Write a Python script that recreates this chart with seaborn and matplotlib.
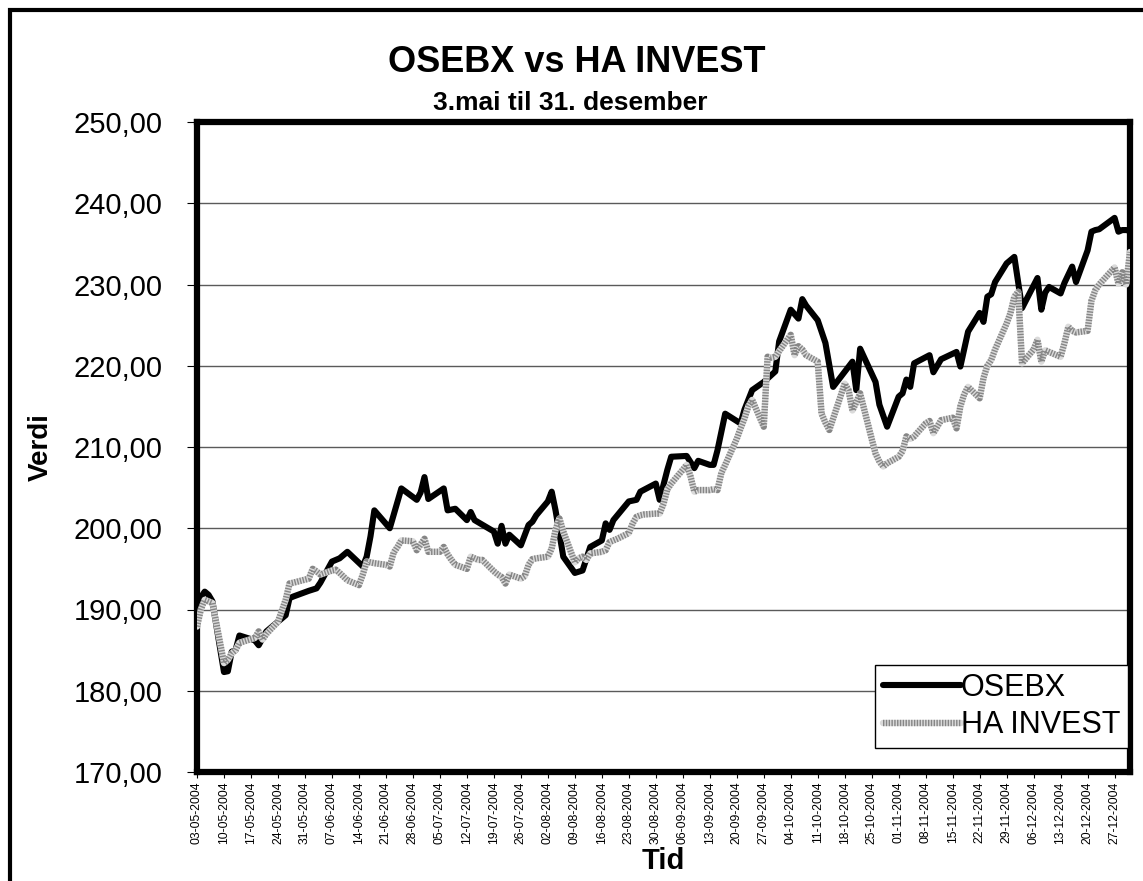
import matplotlib
matplotlib.use("Agg")
import matplotlib.pyplot as plt
import matplotlib.dates as mdates
from matplotlib.patches import Rectangle
from matplotlib.ticker import FuncFormatter, MultipleLocator
import pandas as pd
import seaborn as sns

# OSEBX
osebx_dates = [
    "2004-05-03", "2004-05-04", "2004-05-05", "2004-05-06", "2004-05-07", "2004-05-10",
    "2004-05-11", "2004-05-12", "2004-05-13", "2004-05-14", "2004-05-18", "2004-05-19",
    "2004-05-21", "2004-05-26", "2004-05-27", "2004-05-28", "2004-06-01", "2004-06-03",
    "2004-06-04", "2004-06-07", "2004-06-09", "2004-06-11", "2004-06-15", "2004-06-16",
    "2004-06-17", "2004-06-18", "2004-06-22", "2004-06-25", "2004-06-29", "2004-06-30",
    "2004-07-01", "2004-07-02", "2004-07-06", "2004-07-07", "2004-07-09", "2004-07-12",
    "2004-07-13", "2004-07-14", "2004-07-19", "2004-07-20", "2004-07-21", "2004-07-22",
    "2004-07-23", "2004-07-26", "2004-07-28", "2004-07-29", "2004-07-30", "2004-08-02",
    "2004-08-03", "2004-08-04", "2004-08-05", "2004-08-06", "2004-08-09", "2004-08-11",
    "2004-08-13", "2004-08-16", "2004-08-17", "2004-08-18", "2004-08-19", "2004-08-23",
    "2004-08-25", "2004-08-26", "2004-08-30", "2004-08-31", "2004-09-02", "2004-09-03",
    "2004-09-07", "2004-09-09", "2004-09-10", "2004-09-13", "2004-09-14", "2004-09-15",
    "2004-09-17", "2004-09-21", "2004-09-22", "2004-09-24", "2004-09-27", "2004-09-30",
    "2004-10-01", "2004-10-04", "2004-10-06", "2004-10-07", "2004-10-08", "2004-10-11",
    "2004-10-13", "2004-10-15", "2004-10-20", "2004-10-21", "2004-10-22", "2004-10-26",
    "2004-10-27", "2004-10-29", "2004-11-01", "2004-11-02", "2004-11-03", "2004-11-04",
    "2004-11-05", "2004-11-09", "2004-11-10", "2004-11-12", "2004-11-16", "2004-11-17",
    "2004-11-19", "2004-11-22", "2004-11-23", "2004-11-24", "2004-11-25", "2004-11-26",
    "2004-11-29", "2004-11-30", "2004-12-01", "2004-12-03", "2004-12-07", "2004-12-08",
    "2004-12-09", "2004-12-10", "2004-12-13", "2004-12-14", "2004-12-16", "2004-12-17",
    "2004-12-20", "2004-12-21", "2004-12-22", "2004-12-23", "2004-12-27", "2004-12-28",
    "2004-12-29", "2004-12-30", "2004-12-31",
]
osebx_values = [
    188.0, 191.5, 192.2, 191.8, 191.0, 182.3,
    182.4, 184.8, 185.0, 186.8, 186.2, 185.6,
    187.3, 189.3, 191.4, 191.6, 192.3, 192.6,
    193.3, 195.9, 196.3, 197.1, 195.3, 196.5,
    199.0, 202.2, 200.0, 204.9, 203.5, 204.4,
    206.3, 203.6, 204.9, 202.2, 202.4, 201.0,
    202.0, 201.0, 199.6, 198.1, 200.3, 198.1,
    199.2, 197.9, 200.4, 200.8, 201.6, 203.3,
    204.5, 202.2, 199.4, 196.5, 194.5, 194.8,
    197.7, 198.5, 200.6, 199.8, 201.0, 203.3,
    203.5, 204.5, 205.5, 203.5, 207.2, 208.8,
    208.9, 207.4, 208.3, 207.8, 207.8, 209.6,
    214.1, 212.9, 214.6, 217.0, 218.0, 219.3,
    223.0, 226.9, 225.8, 228.2, 227.4, 225.6,
    222.8, 217.4, 220.5, 217.0, 222.1, 218.0,
    215.2, 212.5, 216.2, 216.6, 218.3, 217.4,
    220.3, 221.3, 219.2, 220.8, 221.7, 219.9,
    224.2, 226.5, 225.4, 228.5, 228.8, 230.3,
    232.6, 233.0, 233.4, 227.1, 230.8, 226.9,
    229.0, 229.7, 228.9, 230.2, 232.2, 230.3,
    234.2, 236.5, 236.7, 236.8, 238.2, 236.5,
    236.7, 236.7, 236.6,
]

# HA INVEST
ha_dates = [
    "2004-05-03", "2004-05-04", "2004-05-05", "2004-05-06", "2004-05-07", "2004-05-10",
    "2004-05-11", "2004-05-12", "2004-05-13", "2004-05-14", "2004-05-18", "2004-05-19",
    "2004-05-20", "2004-05-21", "2004-05-24", "2004-05-26", "2004-05-27", "2004-05-28",
    "2004-06-01", "2004-06-02", "2004-06-03", "2004-06-04", "2004-06-07", "2004-06-08",
    "2004-06-09", "2004-06-11", "2004-06-14", "2004-06-15", "2004-06-16", "2004-06-17",
    "2004-06-18", "2004-06-21", "2004-06-22", "2004-06-23", "2004-06-24", "2004-06-25",
    "2004-06-28", "2004-06-29", "2004-06-30", "2004-07-01", "2004-07-02", "2004-07-05",
    "2004-07-06", "2004-07-07", "2004-07-08", "2004-07-09", "2004-07-12", "2004-07-13",
    "2004-07-14", "2004-07-15", "2004-07-16", "2004-07-19", "2004-07-20", "2004-07-21",
    "2004-07-22", "2004-07-23", "2004-07-26", "2004-07-27", "2004-07-28", "2004-07-29",
    "2004-07-30", "2004-08-02", "2004-08-03", "2004-08-04", "2004-08-05", "2004-08-06",
    "2004-08-09", "2004-08-10", "2004-08-11", "2004-08-12", "2004-08-13", "2004-08-16",
    "2004-08-17", "2004-08-18", "2004-08-19", "2004-08-20", "2004-08-23", "2004-08-24",
    "2004-08-25", "2004-08-26", "2004-08-27", "2004-08-30", "2004-08-31", "2004-09-01",
    "2004-09-02", "2004-09-03", "2004-09-06", "2004-09-07", "2004-09-08", "2004-09-09",
    "2004-09-10", "2004-09-13", "2004-09-14", "2004-09-15", "2004-09-16", "2004-09-17",
    "2004-09-20", "2004-09-21", "2004-09-22", "2004-09-23", "2004-09-24", "2004-09-27",
    "2004-09-28", "2004-09-29", "2004-09-30", "2004-10-01", "2004-10-04", "2004-10-05",
    "2004-10-06", "2004-10-07", "2004-10-08", "2004-10-11", "2004-10-12", "2004-10-13",
    "2004-10-14", "2004-10-15", "2004-10-18", "2004-10-19", "2004-10-20", "2004-10-21",
    "2004-10-22", "2004-10-25", "2004-10-26", "2004-10-27", "2004-10-28", "2004-10-29",
    "2004-11-01", "2004-11-02", "2004-11-03", "2004-11-04", "2004-11-05", "2004-11-08",
    "2004-11-09", "2004-11-10", "2004-11-11", "2004-11-12", "2004-11-15", "2004-11-16",
    "2004-11-17", "2004-11-18", "2004-11-19", "2004-11-22", "2004-11-23", "2004-11-24",
    "2004-11-25", "2004-11-26", "2004-11-29", "2004-11-30", "2004-12-01", "2004-12-02",
    "2004-12-03", "2004-12-06", "2004-12-07", "2004-12-08", "2004-12-09", "2004-12-10",
    "2004-12-13", "2004-12-14", "2004-12-15", "2004-12-16", "2004-12-17", "2004-12-20",
    "2004-12-21", "2004-12-22", "2004-12-23", "2004-12-27", "2004-12-28", "2004-12-29",
    "2004-12-30", "2004-12-31",
]
ha_values = [
    187.9, 190.0, 191.2, 191.0, 190.8, 183.4,
    183.8, 184.6, 185.0, 185.9, 186.5, 187.3,
    186.3, 187.0, 188.5, 191.2, 193.2, 193.3,
    193.8, 195.0, 194.7, 194.3, 194.8, 194.9,
    194.5, 193.6, 193.0, 194.3, 195.9, 195.8,
    195.7, 195.5, 195.3, 197.0, 197.7, 198.5,
    198.4, 197.3, 198.0, 198.7, 197.1, 197.1,
    197.7, 196.8, 196.1, 195.5, 195.0, 196.5,
    196.3, 196.1, 196.1, 194.7, 194.3, 194.0,
    193.2, 194.3, 193.8, 194.1, 195.5, 196.2,
    196.3, 196.5, 197.5, 199.8, 201.2, 199.6,
    195.8, 196.3, 196.5, 196.1, 196.9, 197.1,
    197.3, 198.3, 198.5, 198.7, 199.4, 200.6,
    201.4, 201.6, 201.7, 201.8, 201.8, 203.0,
    204.8, 205.5, 207.2, 207.8, 206.4, 204.5,
    204.7, 204.7, 204.8, 204.7, 206.8, 207.8,
    211.0, 212.3, 213.5, 215.0, 215.8, 212.5,
    221.1, 221.0, 221.1, 221.8, 223.8, 221.3,
    222.4, 222.0, 221.3, 220.5, 214.1, 213.0,
    212.1, 213.5, 217.8, 217.0, 214.5, 215.5,
    216.6, 211.0, 209.2, 208.2, 207.6, 208.0,
    208.8, 209.5, 211.3, 211.0, 211.3, 212.9,
    213.2, 211.7, 212.5, 213.3, 213.6, 212.3,
    215.0, 216.5, 217.4, 216.0, 218.5, 220.0,
    220.7, 222.0, 225.2, 226.5, 228.5, 229.1,
    220.3, 222.0, 223.2, 220.5, 221.9, 221.7,
    221.1, 222.8, 224.8, 224.3, 224.1, 224.3,
    228.0, 229.3, 230.0, 232.1, 230.1, 231.5,
    230.0, 234.0,
]

series_names = ["OSEBX", "HA INVEST"]
title = "OSEBX vs HA INVEST"
subtitle = "3.mai til 31. desember"

osebx = pd.DataFrame({"Tid": pd.to_datetime(osebx_dates), "Verdi": osebx_values})
ha = pd.DataFrame({"Tid": pd.to_datetime(ha_dates), "Verdi": ha_values})

sns.set_style("white")
plt.rcParams["font.family"] = ["Liberation Sans", "DejaVu Sans"]
plt.rcParams.update({"text.color": "black", "axes.labelcolor": "black",
                     "xtick.color": "black", "ytick.color": "black"})

fig = plt.figure(figsize=(11.43, 8.81), dpi=100)
ax = fig.add_axes([197 / 1143, 1 - 772 / 881, (1130 - 197) / 1143, (772 - 122) / 881])

# horizontal gridlines
for v in range(180, 250, 10):
    ax.axhline(v, color="#5a5a5a", lw=1.0, zorder=1)

sns.lineplot(data=osebx, x="Tid", y="Verdi", ax=ax, color="black", linewidth=4.4,
             solid_joinstyle="round", zorder=3)
sns.lineplot(data=ha, x="Tid", y="Verdi", ax=ax, color="#dadada", linewidth=4.6, zorder=4)
sns.lineplot(data=ha, x="Tid", y="Verdi", ax=ax, color="#868686", linewidth=4.6,
             linestyle=(0, (0.22, 0.22)), zorder=5)

line_osebx, line_ha_base, line_ha_dots = ax.lines[-3:]

ax.set_ylim(170, 250)
ax.set_xlim(pd.Timestamp("2004-05-03"), pd.Timestamp("2004-12-31"))
ax.yaxis.set_major_locator(MultipleLocator(10))
ax.yaxis.set_major_formatter(FuncFormatter(lambda v, p: f"{v:.2f}".replace(".", ",")))

ticks = pd.date_range("2004-05-03", "2004-12-27", freq="7D")
ax.set_xticks(ticks)
ax.xaxis.set_major_formatter(mdates.DateFormatter("%d-%m-%Y"))
ax.tick_params(axis="x", rotation=90, labelsize=8.7, length=4, width=0.8,
               direction="out", pad=3, bottom=True)
ax.tick_params(axis="y", labelsize=21, length=7, width=0.8, direction="out",
               pad=18, left=True)

for s in ax.spines.values():
    s.set_linewidth(4.5)
    s.set_color("black")
    s.set_visible(True)

ax.set_xlabel("Tid", fontsize=21, fontweight="bold", labelpad=2)
ax.set_ylabel("Verdi", fontsize=20, fontweight="bold", labelpad=14)

fig.text(577 / 1143, 1 - 62 / 881, title, ha="center", va="center",
         fontsize=26, fontweight="bold")
fig.text(570 / 1143, 1 - 103 / 881, subtitle, ha="center", va="center",
         fontsize=19, fontweight="bold")

leg = ax.legend([line_osebx, (line_ha_base, line_ha_dots)], series_names,
                loc="lower right", bbox_to_anchor=(0.998, 0.037), borderaxespad=0,
                fontsize=22, frameon=True, fancybox=False, handlelength=2.55,
                handletextpad=0.0, borderpad=0.25, labelspacing=0.25)
leg.get_frame().set_edgecolor("black")
leg.get_frame().set_linewidth(1.0)
leg.get_frame().set_alpha(1)

# outer chart frame
fig.add_artist(Rectangle((10 / 1143, -0.05), 1.1, 1 - 10 / 881 + 0.05,
                         transform=fig.transFigure, fill=False, edgecolor="black",
                         linewidth=3.0, clip_on=False))

fig.savefig("out.png", dpi=100)
plt.close(fig)
